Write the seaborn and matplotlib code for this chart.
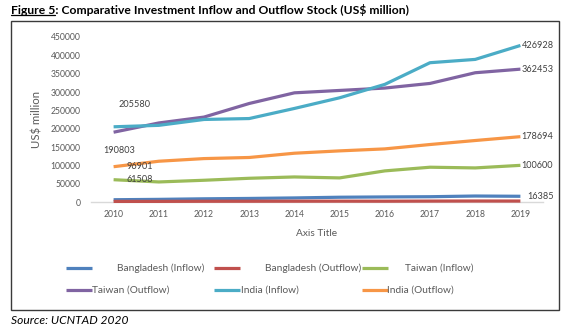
import numpy as np
import pandas as pd
import matplotlib
matplotlib.use("Agg")
import matplotlib.pyplot as plt
import seaborn as sns
from matplotlib.lines import Line2D
from matplotlib.patches import Rectangle

# ---------------- data ----------------
years = [2010, 2011, 2012, 2013, 2014, 2015, 2016, 2017, 2018, 2019]
series_names = ["Bangladesh (Inflow)", "Bangladesh (Outflow)", "Taiwan (Inflow)",
                "Taiwan (Outflow)", "India (Inflow)", "India (Outflow)"]
bd_in = [7000, 8000, 9500, 10500, 11900, 13800, 14600, 15200, 17100, 16385]
bd_out = [2400, 2500, 2800, 2900, 3000, 3100, 3000, 3300, 3500, 3400]
tw_in = [61508, 55400, 60000, 65400, 69000, 66400, 85500, 95500, 93600, 100600]
tw_out = [190803, 216000, 232000, 269000, 298000, 304500, 311000, 323600, 352700, 362453]
in_in = [205580, 209500, 225500, 228000, 255500, 284500, 321000, 380000, 389000, 426928]
in_out = [96901, 111800, 119000, 122000, 133600, 140000, 145400, 157300, 168200, 178694]
y_ticks = [0, 50000, 100000, 150000, 200000, 250000, 300000, 350000, 400000, 450000]
x_tick_labels = [str(y) for y in years]
colors = ["#4F81BD", "#C0504D", "#9BBB59", "#8064A2", "#4BACC6", "#F79646"]

title_main = "Figure 5: Comparative Investment Inflow and Outflow Stock (US$ million)"
title_underlined = "Figure 5"
source_text = "Source: UCNTAD 2020"

values = [bd_in, bd_out, tw_in, tw_out, in_in, in_out]
df = pd.DataFrame({
    "Year": np.tile(years, len(series_names)),
    "Series": np.repeat(series_names, len(years)),
    "Value": np.concatenate([np.array(v, dtype=float) for v in values]),
})

# ---------------- figure ----------------
sns.set_style("white")
plt.rcParams["font.family"] = ["Lato", "DejaVu Sans"]

W, H = 574, 334
fig = plt.figure(figsize=(W / 100, H / 100), dpi=100)
renderer = fig.canvas.get_renderer()


def fx(x):
    return x / W


def fy(y):
    return 1 - y / H


def fit_size(text, target_px, **kw):
    t = fig.text(0, 0, text, fontsize=10, **kw)
    w = t.get_window_extent(renderer).width
    t.remove()
    return 10 * target_px / w


tick_fs = fit_size("450000", 30)
lab_fs = fit_size("426928", 32)
leg_fs = fit_size("Bangladesh (Inflow)", 87)
src_fs = fit_size(source_text, 117, style="italic")
title_fs = fit_size(title_main, 398, fontweight="bold")

ax_l, ax_r, ax_t, ax_b = 91, 543, 37, 202.3
ax = fig.add_axes([fx(ax_l), fy(ax_b), (ax_r - ax_l) / W, (ax_b - ax_t) / H])

palette = dict(zip(series_names, colors))
sns.lineplot(data=df, x="Year", y="Value", hue="Series", hue_order=series_names,
             palette=palette, linewidth=2.3, legend=False, ax=ax, sort=False)
for ln in ax.lines:
    ln.set_clip_on(False)
    ln.set_solid_capstyle("butt")
    ln.set_solid_joinstyle("round")

ax.set_xlim(2009.5, 2019.5)
ax.set_ylim(0, 450000)
ax.set_xticks(years)
ax.set_xticklabels(x_tick_labels)
ax.set_yticks(y_ticks)
ax.set_yticklabels([str(v) for v in y_ticks])
ax.tick_params(axis="both", length=0, colors="#595959", labelsize=tick_fs)
ax.tick_params(axis="y", pad=7.5)
ax.tick_params(axis="x", pad=5.5)
for s in ["top", "right", "left"]:
    ax.spines[s].set_visible(False)
ax.spines["bottom"].set_color("#D9D9D9")
ax.spines["bottom"].set_linewidth(1.0)
ax.spines["bottom"].set_zorder(0)
ax.set_xlabel("")
ax.set_ylabel("")
ax.grid(False)

# data labels
lab_kw = dict(textcoords="offset pixels", fontsize=lab_fs, color="#404040")
ax.annotate(str(in_in[0]), (years[0], in_in[0]), xytext=(21, 22), ha="center", va="center", **lab_kw)
ax.annotate(str(tw_out[0]), (years[0], tw_out[0]), xytext=(6, -18), ha="center", va="center", **lab_kw)
ax.annotate(str(in_out[0]), (years[0], in_out[0]), xytext=(26, 0), ha="center", va="center", **lab_kw)
ax.annotate(str(tw_in[0]), (years[0], tw_in[0]), xytext=(26, 0), ha="center", va="center", **lab_kw)
ax.annotate(str(in_in[-1]), (years[-1], in_in[-1]), xytext=(1, 0), ha="left", va="center", **lab_kw)
ax.annotate(str(tw_out[-1]), (years[-1], tw_out[-1]), xytext=(1, 0), ha="left", va="center", **lab_kw)
ax.annotate(str(in_out[-1]), (years[-1], in_out[-1]), xytext=(1, 0), ha="left", va="center", **lab_kw)
ax.annotate(str(tw_in[-1]), (years[-1], tw_in[-1]), xytext=(1, 0), ha="left", va="center", **lab_kw)
ax.annotate(str(bd_in[-1]), (years[-1], bd_in[-1]), xytext=(7, 0), ha="left", va="center", **lab_kw)

# axis titles
fig.text(fx((ax_l + ax_r) / 2), fy(233), "Axis Title", ha="center", va="center",
         fontsize=leg_fs, color="#595959")
fig.text(fx(37), fy(120), "US$ million", ha="center", va="center", rotation=90,
         fontsize=leg_fs * 1.12, color="#595959")

# chart border
fig.add_artist(Rectangle((fx(11), fy(310)), (559 - 11) / W, (310 - 21) / H,
                         transform=fig.transFigure, fill=False, edgecolor="#3A3A3A",
                         linewidth=1.0))

# legend (manual, Excel-like layout)
leg_entries = [
    (0, 66, 268.3, 117), (1, 214, 268.3, 265), (2, 362, 268.3, 405),
    (3, 66, 290.0, 92), (4, 214, 290.0, 241), (5, 362, 290.0, 387),
]
for idx, x0, yy, tx in leg_entries:
    fig.add_artist(Line2D([fx(x0), fx(x0 + 26)], [fy(yy), fy(yy)], transform=fig.transFigure,
                          color=colors[idx], linewidth=2.3, solid_capstyle="butt"))
    fig.text(fx(tx), fy(yy), series_names[idx], ha="left", va="center",
             fontsize=leg_fs, color="#595959")

# title with underlined "Figure 5"
tt = fig.text(fx(11), fy(10), title_main, ha="left", va="center", fontsize=title_fs,
              fontweight="bold", color="#000000")
ghost = fig.text(fx(11), fy(10), title_underlined, ha="left", va="center",
                 fontsize=title_fs, fontweight="bold", alpha=0)
gb = ghost.get_window_extent(renderer)
ul_y = gb.y0 + 0.5
fig.add_artist(Line2D([gb.x0 / W, gb.x1 / W], [ul_y / H, ul_y / H], transform=fig.transFigure,
                      color="#000000", linewidth=0.9))

# source
fig.text(fx(11), fy(321), source_text, ha="left", va="center", fontsize=src_fs,
         style="italic", color="#000000")

fig.savefig("out.png", dpi=100)
